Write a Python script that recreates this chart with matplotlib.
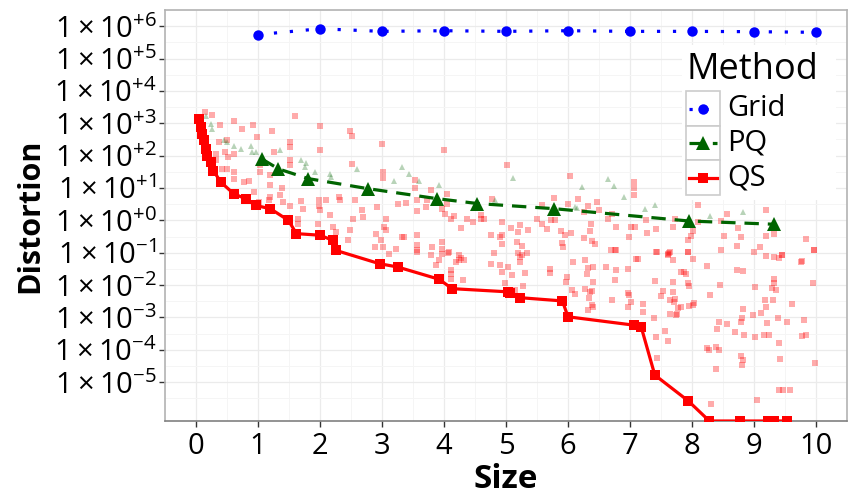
import matplotlib
matplotlib.use("Agg")
import matplotlib.pyplot as plt
from matplotlib.lines import Line2D
from matplotlib.patches import Rectangle
import numpy as np

plt.rcParams['font.family'] = ['Open Sans', 'DejaVu Sans']
plt.rcParams['mathtext.fontset'] = 'custom'
plt.rcParams['mathtext.rm'] = 'Open Sans'
plt.rcParams['mathtext.it'] = 'Open Sans'

# ---- data (y values stored as log10 exponents) ----
grid_x = [1, 2, 3, 4, 5, 6, 7, 8, 9, 10]
grid_exp = [5.74, 5.92, 5.84, 5.86, 5.84, 5.86, 5.84, 5.84, 5.83, 5.81]

pq_x = [1.06, 1.33, 1.81, 2.77, 3.89, 4.54, 5.78, 7.95, 9.32]
pq_exp = [1.90, 1.59, 1.29, 0.98, 0.67, 0.52, 0.36, -0.02, -0.12]

qs_x = [0.05, 0.075, 0.10, 0.13, 0.155, 0.18, 0.235, 0.28, 0.40, 0.61, 0.80,
        0.96, 1.20, 1.49, 1.62, 2.0, 2.21, 2.26, 2.96, 3.25, 3.92, 4.13, 5.04,
        5.07, 5.23, 5.91, 6.0, 7.07, 7.18, 7.40, 7.94, 8.28, 8.78, 9.23, 9.32,
        9.53]
qs_exp = [3.14, 2.88, 2.67, 2.47, 2.21, 2.0, 1.8, 1.54, 1.18, 0.82, 0.67,
          0.46, 0.36, 0.0, -0.41, -0.46, -0.62, -0.93, -1.34, -1.44, -1.82,
          -2.11, -2.21, -2.23, -2.39, -2.49, -2.98, -3.24, -3.29, -4.78, -5.58,
          -6.2, -6.2, -6.2, -6.2, -6.2]

pq_all_x = [0.155, 0.235, 0.26, 0.45, 0.50, 0.61, 0.72, 0.88, 0.90, 0.96,
            1.36, 1.70, 1.77, 1.76, 1.92, 2.16, 2.18, 2.59, 3.20, 3.33, 3.43,
            3.59, 3.92, 4.83, 5.11, 6.12, 6.14, 6.22, 6.65, 6.74, 6.90, 7.24,
            7.41, 8.29, 8.83]
pq_all_exp = [3.24, 2.98, 2.83, 2.47, 2.42, 2.31, 2.21, 2.31, 2.11, 2.11,
              2.18, 1.85, 1.77, 1.65, 1.49, 1.44, 1.34, 1.60, 1.23, 1.65, 1.42,
              1.21, 1.08, 0.62, 1.31, 0.41, 0.39, 1.03, 1.27, 1.05, 0.72, 0.36,
              0.46, 0.12, 0.26]

qs_all_x = [
    0.14, 0.25, 0.38, 0.62, 0.74, 0.92, 1.22, 1.60, 2.00, 2.48, 2.51, 0.99,
    3.00, 2.00, 1.51, 1.51, 1.25, 0.37, 0.50, 0.46, 0.32, 0.51, 0.61, 0.33,
    0.42, 0.50, 0.61, 0.61, 0.77, 0.85, 0.93, 1.04, 1.04, 1.20, 1.20, 1.38,
    1.36, 1.20, 1.17, 1.01, 1.41, 1.52, 1.51, 1.52, 1.70, 1.72, 1.65, 1.65,
    1.99, 2.10, 1.99, 2.00, 1.97, 2.16, 2.21, 2.25, 2.31, 2.32, 2.48, 2.45,
    2.57, 2.67, 2.69, 2.54, 2.51, 3.01, 3.01, 2.92, 3.07, 3.04, 3.07, 2.99,
    2.91, 2.88, 3.01, 3.12, 3.23, 3.25, 3.33,
    4.00, 5.02, 6.03, 3.54, 3.54, 3.79, 3.38, 3.57, 3.73, 3.71, 3.57, 4.05,
    4.05, 3.97, 4.02, 4.16, 4.37, 4.46, 4.59, 4.59, 4.64, 4.78, 4.94, 4.94,
    4.75, 5.08, 5.23, 5.20, 5.36, 5.18, 5.26, 5.34, 5.23, 5.58, 5.78, 5.50,
    5.58, 5.66, 5.73, 5.79, 5.88, 5.95, 6.05, 5.90, 5.92, 6.00, 6.16, 6.25,
    6.32, 6.46, 6.50, 6.37, 6.35, 6.26, 6.39, 6.43, 6.71, 6.64, 6.78, 6.69,
    6.78, 3.36, 3.56, 3.57, 3.81, 3.97, 3.97, 3.57, 3.79, 4.07, 4.24, 4.27,
    4.11, 4.27, 4.80, 4.91, 4.94,
    7.06, 7.06, 7.06, 8.10, 7.02, 7.08, 7.26, 7.42, 7.73, 7.69, 8.01, 7.98,
    7.93, 8.10, 8.56, 8.46, 8.74, 8.51, 8.79, 8.46, 8.73, 9.09, 9.20, 9.20,
    9.33, 9.00, 9.20, 9.45, 9.84, 9.97, 9.77, 6.98, 7.28, 7.44, 7.61, 7.65,
    7.10, 7.93,
    3.57, 3.92, 3.97, 4.08, 4.11, 4.11, 4.30, 4.24, 4.32, 4.19, 4.11, 4.75,
    4.91, 4.94, 5.04, 5.10, 4.99, 5.23, 5.26, 5.20, 5.31, 5.28, 5.15, 5.71,
    5.71, 5.99, 5.96, 6.08, 6.06, 6.11, 6.27, 6.32, 6.40, 6.31, 6.40, 6.27,
    6.35, 6.38, 6.34, 6.40, 6.32, 6.39, 6.62, 6.71, 6.75, 6.78, 6.75, 3.87,
    7.13, 6.97, 7.42, 7.61, 7.63, 7.70, 7.93, 8.01, 8.24, 7.82, 7.90, 7.87,
    7.41, 7.69, 7.93, 7.95, 6.97, 6.99, 7.02, 6.97, 7.21, 7.21, 7.53, 7.50,
    7.70, 7.65, 7.71, 7.73, 7.82, 7.78, 7.65, 7.76, 7.74, 7.95, 8.03, 8.01,
    7.39, 7.57, 7.61, 7.42, 7.43, 8.29, 8.45, 8.24, 8.28, 8.38, 8.44, 8.41,
    8.44, 8.56, 8.38, 8.30, 8.70, 8.73, 8.83, 8.83, 8.81, 8.79, 8.84, 8.79,
    8.83, 8.81, 9.02, 9.02, 8.98, 9.11, 9.17, 9.20, 9.21, 9.16, 9.24, 9.05,
    9.32, 9.40, 9.45, 9.32, 9.32, 9.29, 9.36, 9.31, 9.38, 9.40, 9.42, 9.40,
    9.47, 9.58, 9.53, 9.61, 9.77, 9.84, 9.80, 9.76, 9.95, 9.98, 9.96,
]
qs_all_exp = [
    3.34, 3.27, 2.96, 3.06, 2.83, 2.96, 2.76, 3.22, 2.93, 2.76, 2.62, 2.59,
    2.37, 2.16, 2.42, 2.26, 2.11, 2.42, 2.47, 2.11, 2.06, 1.95, 2.06, 1.85,
    1.59, 1.59, 1.49, 1.29, 1.18, 1.23, 0.87, 1.49, 1.70, 1.39, 1.08, 1.01,
    0.77, 0.72, 0.62, 0.57, 0.57, 0.43, 1.85, 1.70, 0.59, 0.36, 0.05, -0.12,
    0.64, 0.64, 0.43, 0.31, -0.10, 0.15, -0.21, -0.36, 0.72, 0.62, -0.31, -0.62,
    0.62, 0.31, 0.10, 0.05, 1.73, 1.49, 1.32, 0.41, 0.05, -0.21, -0.31, -0.62,
    -0.41, -0.82, -0.82, -1.03, -0.87, 0.51, -0.51,
    2.16, 1.70, 1.36, 1.26, 1.01, 0.95, 0.53, 0.62, 0.62, 0.41, 0.29, 0.80,
    0.49, 0.36, 0.21, 0.12, 0.05, -0.05, 0.15, 0.05, 0.05, 0.66, -0.05, -0.46,
    -0.46, -0.23, -0.15, -0.36, -0.29, -0.67, -0.80, -1.01, -1.13, 0.46, 0.70, 0.05,
    -0.10, -0.26, 0.02, 0.02, -0.33, -0.46, -0.39, -0.70, -0.82, 0.51, 0.66, 0.26,
    0.43, 0.57, 0.31, -0.12, -0.33, -0.53, -0.64, -0.74, 0.21, 0.05, -0.21, -0.91,
    -0.93, -0.51, -0.46, -0.77, -0.82, -0.67, -0.87, -0.93, -1.08, -1.01, -1.08, -1.15,
    0.05, -0.23, -1.01, -0.51, -0.74,
    1.18, 1.01, 0.77, 0.46, -0.21, -0.19, 0.0, -0.26, 0.05, -0.19, -0.33, -0.49,
    -0.62, -0.05, 0.21, -0.02, -0.23, -0.49, -0.51, -0.91, -0.80, -0.82, 0.31, -0.49,
    -0.43, -0.98, -1.11, -1.08, -0.57, -0.93, -1.26, -0.51, -0.39, -0.98, -1.05, -0.98,
    -1.18, -0.98,
    -0.98, -1.23, -1.03, -0.98, -1.54, -1.67, -1.83, -1.23, -1.23, -1.28, -1.80, -1.34,
    -1.39, -1.60, -1.44, -1.70, -1.95, -1.29, -1.08, -1.02, -1.63, -2.04, -2.16, -1.49,
    -1.62, -1.75, -1.90, -1.29, -2.14, -2.28, -1.23, -1.46, -1.44, -1.65, -1.92, -2.11,
    -2.21, -2.18, -2.39, -2.67, -2.78, -2.62, -1.44, -2.45, -1.85, -1.54, -0.93, -1.39,
    -1.18, -1.49, -0.98, -1.08, -1.00, -1.21, -0.98, -1.18, -1.41, -1.59, -1.65, -1.59,
    -1.87, -1.90, -1.95, -2.04, -2.24, -2.31, -2.52, -2.67, -2.59, -2.83, -2.18, -2.34,
    -2.21, -2.47, -2.52, -2.42, -2.67, -2.70, -2.88, -2.90, -2.93, -2.65, -2.55, -2.62,
    -3.03, -3.42, -3.72, -3.60, -4.24, -2.31, -1.99, -3.93, -4.01, -3.91, -4.01, -3.37,
    -3.14, -3.21, -4.58, -5.66, -3.45, -1.52, -1.57, -2.73, -3.03, -3.14, -3.55, -4.20,
    -4.30, -4.48, -2.06, -3.60, -2.93, -2.86, -2.47, -2.67, -3.16, -3.55, -3.55, -5.55,
    -1.13, -1.15, -1.08, -1.80, -1.95, -2.08, -2.16, -2.45, -3.03, -3.79, -4.27, -5.25,
    -5.23, -5.25, -3.14, -2.57, -3.58, -3.55, -3.09, -1.29, -1.95, -4.42, -0.93,
]

y_exps = [6, 5, 4, 3, 2, 1, 0, -1, -2, -3, -4, -5]
y_labels = [r"$1\times10^{%s%d}$" % ("+" if e >= 0 else "-", abs(e)) for e in y_exps]
x_ticks = list(range(0, 11))
methods = ["Grid", "PQ", "QS"]

BLUE = "#0000ff"
GREEN = "#006400"
RED = "#ff0000"
W, H = 851, 496


def fx(px):
    return px / W


def fy(py):
    return 1 - py / H


fig = plt.figure(figsize=(W / 100, H / 100), dpi=100)
ax = fig.add_axes([fx(165), fy(421), (847 - 165) / W, (421 - 10) / H])
ax.set_yscale("log")

# faint per-run points
ax.plot(qs_all_x, 10.0 ** np.array(qs_all_exp), ls="none", marker="s", ms=4.6,
        color=RED, alpha=0.33, mew=0, zorder=2)
ax.plot(pq_all_x, 10.0 ** np.array(pq_all_exp), ls="none", marker="^", ms=5,
        color=GREEN, alpha=0.28, mew=0, zorder=2)

# best-so-far lines
styles = {
    "Grid": dict(color=BLUE, lw=2.3, ls=(0, (1, 4)), marker="o", ms=7.5, mew=0),
    "PQ": dict(color=GREEN, lw=2.3, ls=(0, (4.5, 2.8)), marker="^", ms=9.5, mew=0),
    "QS": dict(color=RED, lw=2.3, ls="-", marker="s", ms=7.5, mew=0),
}
ax.plot(qs_x, 10.0 ** np.array(qs_exp), zorder=4, **styles["QS"])
ax.plot(pq_x, 10.0 ** np.array(pq_exp), zorder=4, **styles["PQ"])
ax.plot(grid_x, 10.0 ** np.array(grid_exp), zorder=4, **styles["Grid"])

ax.set_xlim(-0.43, 10.5)
ax.set_ylim(10 ** -6.2, 10 ** 6.48)

ax.set_yticks([10.0 ** e for e in y_exps], y_labels)
ax.set_yticks([10.0 ** (e - 0.5) for e in range(7, -6, -1)], minor=True)
ax.set_xticks(x_ticks)
ax.set_xticks(np.arange(-0.5, 10.6, 1.0), minor=True)
ax.yaxis.set_minor_formatter(matplotlib.ticker.NullFormatter())

ax.grid(True, which="major", color="#ebebeb", lw=0.9, zorder=0)
ax.grid(True, which="minor", color="#f5f5f5", lw=0.7, zorder=0)
ax.set_axisbelow(True)

ax.tick_params(axis="both", which="major", labelsize=21, length=4, width=1,
               color="#333333", labelcolor="black", pad=2)
ax.tick_params(axis="x", which="major", pad=4)
ax.tick_params(axis="both", which="minor", length=0)

for side in ["top", "right", "left"]:
    ax.spines[side].set_color("#b3b3b3")
    ax.spines[side].set_linewidth(1.2)
ax.spines["bottom"].set_color("#808080")
ax.spines["bottom"].set_linewidth(1.2)

ax.set_xlabel("Size", fontsize=24, fontweight="bold", labelpad=1)
ax.set_ylabel("Distortion", fontsize=22, fontweight="bold")
ax.yaxis.set_label_coords((45 - 165) / 682, 0.5)

# legend drawn ggplot-style: title, key boxes, labels
fig.add_artist(Rectangle((fx(682), fy(200)), (836 - 682) / W, (200 - 45) / H,
                         transform=fig.transFigure, facecolor="white",
                         edgecolor="none", zorder=5))
fig.text(fx(686), fy(70), "Method", fontsize=26, ha="left", va="center",
         zorder=6)
for i, name in enumerate(methods):
    cy = 108.5 + 34.5 * i
    fig.add_artist(Rectangle((fx(686), fy(cy + 17.25)), 34 / W, 34.5 / H,
                             transform=fig.transFigure, facecolor="white",
                             edgecolor="#cccccc", lw=1.2, zorder=6))
    key = Line2D([fx(689), fx(703), fx(717)], [fy(cy)] * 3,
                 transform=fig.transFigure, markevery=[1], zorder=7,
                 **styles[name])
    fig.add_artist(key)
    fig.text(fx(727), fy(cy), name, fontsize=21, ha="left", va="center",
             zorder=7)

fig.savefig("out.png", dpi=100)
